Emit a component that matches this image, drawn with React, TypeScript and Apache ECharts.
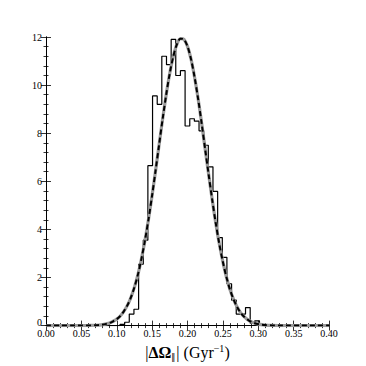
import React, { useEffect, useRef } from "react";
import * as echarts from "echarts";

const binEdges = [
  0.1046, 0.1112, 0.1177, 0.1243, 0.1309, 0.1375, 0.144, 0.1506, 0.1572, 0.1637,
  0.1703, 0.1769, 0.1834, 0.19, 0.1966, 0.2032, 0.2097, 0.2163, 0.2229, 0.2294,
  0.236, 0.2426, 0.2492, 0.2557, 0.2623, 0.2689, 0.2754, 0.282, 0.2886, 0.2951,
  0.3017,
];
const binCounts = [
  0.05, 0.14, 0.48, 0.68, 2.55, 3.55, 6.65, 9.55, 9.2, 11.2,
  10.85, 11.9, 10.4, 10.6, 8.3, 8.6, 8.5, 8.1, 7.5, 6.6,
  5.58, 3.66, 2.84, 1.74, 1.06, 0.48, 0.48, 0.75, 0.1, 0.2,
];
const fitX = [
  0.0, 0.02, 0.04, 0.05, 0.06, 0.07, 0.08, 0.085, 0.09, 0.095, 0.1, 0.105, 0.11,
  0.115, 0.12, 0.125, 0.13, 0.135, 0.14, 0.145, 0.15, 0.155, 0.16, 0.165, 0.17,
  0.175, 0.18, 0.185, 0.19, 0.195, 0.2, 0.205, 0.21, 0.215, 0.22, 0.225, 0.23,
  0.235, 0.24, 0.245, 0.25, 0.255, 0.26, 0.265, 0.27, 0.275, 0.28, 0.285, 0.29,
  0.295, 0.3, 0.31, 0.32, 0.33, 0.34, 0.36, 0.38, 0.4,
];
const fitY = [
  0, 0, 0, 0.001, 0.005, 0.015, 0.043, 0.071, 0.11, 0.18, 0.27, 0.4, 0.59,
  0.84, 1.17, 1.6, 2.13, 2.79, 3.56, 4.44, 5.42, 6.47, 7.55, 8.62, 9.62,
  10.5, 11.2, 11.69, 11.93, 11.9, 11.61, 11.08, 10.33, 9.43, 8.41, 7.33, 6.26,
  5.22, 4.25, 3.39, 2.65, 2.02, 1.5, 1.1, 0.78, 0.54, 0.37, 0.25, 0.16,
  0.1, 0.064, 0.023, 0.007, 0.002, 0, 0, 0, 0,
];
const xTicks = ["0.00", "0.05", "0.10", "0.15", "0.20", "0.25", "0.30", "0.35", "0.40"];

const FONT = "Liberation Serif";

export default function App() {
  const ref = useRef<HTMLDivElement>(null);
  useEffect(() => {
    if (!ref.current) return;
    const chart = echarts.init(ref.current, null, { renderer: "svg" });

    const histData: number[][] = [[0, 0]];
    binCounts.forEach((c, i) => histData.push([binEdges[i], c]));
    histData.push([binEdges[binEdges.length - 1], 0]);
    histData.push([0.4, 0]);
    const fitData = fitX.map((x, i) => [x, fitY[i]]);

    const axisCommon = {
      axisLine: { show: true, lineStyle: { color: "#000", width: 1 } },
      axisTick: { show: true, inside: true, length: 5, lineStyle: { color: "#000", width: 0.8 } },
      minorTick: { show: true, splitNumber: 5, length: 2.5, lineStyle: { color: "#000", width: 0.8 } },
      splitLine: { show: false },
    };

    chart.setOption({
      animation: false,
      backgroundColor: "#fff",
      grid: { left: 46, right: 37, top: 37, bottom: 37, containLabel: false },
      xAxis: [
        {
          type: "value",
          min: 0,
          max: 0.4,
          interval: 0.05,
          position: "bottom",
          ...axisCommon,
          axisLabel: {
            margin: 3,
            fontFamily: FONT,
            fontSize: 10,
            lineHeight: 9,
            color: "#000",
            formatter: (v: number) => xTicks[Math.round(v / 0.05)] ?? "",
          },
          name: "{n||}{b|ΔΩ}{s|‖}{n|| (Gyr}{p|−1}{n|)}",
          nameLocation: "middle",
          nameGap: 15,
          nameTextStyle: {
            rich: {
              n: { fontFamily: FONT, fontSize: 16, color: "#000", lineHeight: 18, verticalAlign: "middle" },
              b: { fontFamily: FONT, fontSize: 16, fontWeight: "bold", color: "#000", lineHeight: 18, verticalAlign: "middle" },
              s: { fontFamily: "DejaVu Sans", fontSize: 8, color: "#000", lineHeight: 8, verticalAlign: "bottom", padding: [0, 1, 0, 0] },
              p: { fontFamily: FONT, fontSize: 10, color: "#000", lineHeight: 10, verticalAlign: "top" },
            },
          },
        },
        {
          type: "value",
          min: 0,
          max: 0.4,
          interval: 0.05,
          position: "top",
          ...axisCommon,
          axisLabel: { show: false },
        },
      ],
      yAxis: [
        {
          type: "value",
          min: 0,
          max: 12,
          interval: 2,
          position: "left",
          ...axisCommon,
          axisLabel: {
            margin: 4,
            fontFamily: FONT,
            fontSize: 10,
            lineHeight: 4,
            color: "#000",
            formatter: (v: number) => (v === 0 ? "{z|0}" : String(v)),
            rich: {
              z: { fontFamily: FONT, fontSize: 10, lineHeight: 4, color: "#000", padding: [0, 0, 6, 0] },
            },
          },
        },
        {
          type: "value",
          min: 0,
          max: 12,
          interval: 2,
          position: "right",
          ...axisCommon,
          axisLabel: { show: false },
        },
      ],
      series: [
        {
          type: "line",
          data: histData,
          step: "end",
          symbol: "none",
          lineStyle: { color: "#000", width: 1.2 },
          z: 2,
        },
        {
          type: "line",
          data: fitData,
          smooth: 0.3,
          symbol: "none",
          lineStyle: { color: "#9a9a9a", width: 3.2 },
          z: 3,
        },
        {
          type: "line",
          data: fitData,
          smooth: 0.3,
          symbol: "none",
          lineStyle: { color: "#000", width: 2, type: [5, 3] },
          z: 4,
        },
      ],
    });
    return () => chart.dispose();
  }, []);
  return (
    <div
      ref={ref}
      style={{ position: "absolute", left: 0, top: 0, width: 366, height: 366 }}
    />
  );
}
